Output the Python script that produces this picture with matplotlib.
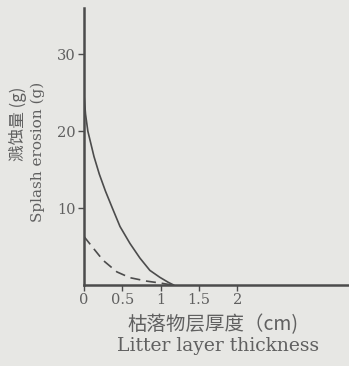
import matplotlib.pyplot as plt

litter_cm = [0, 0.02, 0.05, 0.13, 0.2, 0.28, 0.37, 0.47, 0.6, 0.73, 0.86, 0.99, 1.1, 1.17]
splash_solid = [24.7, 22.2, 20, 16.7, 14.4, 12.2, 10, 7.6, 5.4, 3.5, 1.9, 1.0, 0.35, 0]
litter_cm_d = [0, 0.12, 0.25, 0.43, 0.6, 0.82, 1.0, 1.15]
splash_dash = [6.3, 4.8, 3.2, 1.7, 0.95, 0.5, 0.25, 0]
x_ticks = [0, 0.5, 1, 1.5, 2]
x_labels = ['0', '0.5', '1', '1.5', '2']
y_ticks = [10, 20, 30]

bg = '#e7e7e4'
ink = '#4c4c4c'
txt = '#606060'

fig = plt.figure(figsize=(3.49, 3.66), dpi=100, facecolor=bg)
ax = fig.add_axes([0.2407, 0.2213, 0.7593, 0.757], facecolor=bg)

ax.plot(litter_cm, splash_solid, color=ink, lw=1.2)
ax.plot(litter_cm_d, splash_dash, color=ink, lw=1.2, dashes=(6, 3.5))

ax.set_xlim(0, 3.46)
ax.set_ylim(0, 36)
for s in ['top', 'right']:
    ax.spines[s].set_visible(False)
for s in ['left', 'bottom']:
    ax.spines[s].set_color(ink)
    ax.spines[s].set_linewidth(1.8)

ax.set_xticks(x_ticks)
ax.set_xticklabels(x_labels, family='DejaVu Serif', fontsize=10.5, color=txt)
ax.set_yticks(y_ticks)
ax.set_yticklabels([str(v) for v in y_ticks], family='DejaVu Serif', fontsize=10.5, color=txt)
ax.tick_params(axis='both', color=ink, length=4, width=1, pad=2)

# labels
fig.text(0.052, 0.661, '溅蚀量 (g)', rotation=90, ha='center', va='center',
         family=['Noto Sans CJK SC', 'DejaVu Sans'], fontsize=12, color=txt)
fig.text(0.109, 0.585, 'Splash erosion (g)', rotation=90, ha='center', va='center',
         family='DejaVu Serif', fontsize=11, color=txt)
fig.text(0.61, 0.112, '枯落物层厚度（cm)', ha='center', va='center',
         family=['Noto Sans CJK SC', 'DejaVu Sans'], fontsize=14, color=txt)
fig.text(0.625, 0.055, 'Litter layer thickness', ha='center', va='center',
         family='DejaVu Serif', fontsize=13.5, color=txt)

fig.savefig('out.png', dpi=100, facecolor=bg)
